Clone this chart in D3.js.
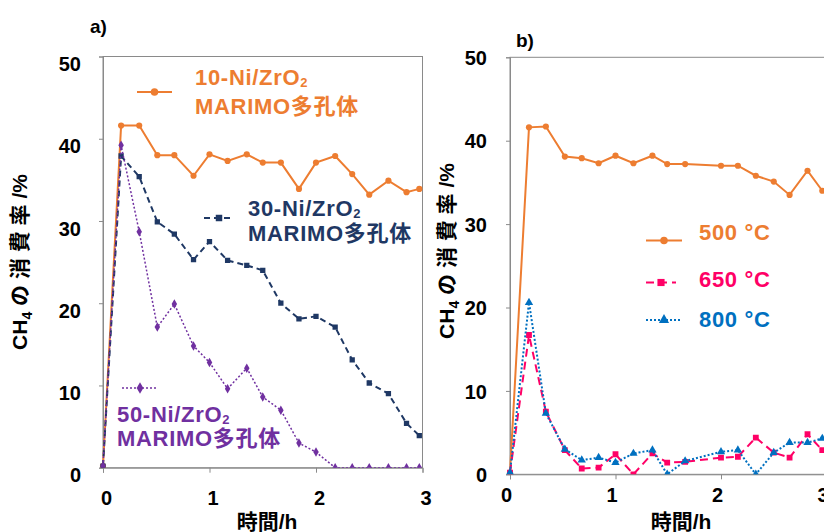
<!DOCTYPE html>
<html>
<head>
<meta charset="utf-8">
<script src="https://cdn.jsdelivr.net/npm/d3@7"></script>
<style>
  body { margin: 0; background: #fff; }
  svg { display: block; }
  text { font-family: "Liberation Sans", Arial, "Noto Sans CJK JP", sans-serif; font-weight: bold; }
</style>
</head>
<body>
<div id="chart"></div>
<script>
// panel a: Ni loading, panel b: temperature
const timeA = [0, 0.17, 0.34, 0.51, 0.67, 0.85, 1.0, 1.17, 1.35, 1.5, 1.67, 1.84, 2.0, 2.18, 2.34, 2.5, 2.68, 2.85, 2.97];
const ni10 = [0.2, 41.6, 41.6, 38.0, 38.0, 35.5, 38.1, 37.3, 38.1, 37.1, 37.1, 33.9, 37.1, 37.9, 35.7, 33.2, 34.9, 33.5, 33.9];
const ni30 = [0.2, 37.9, 35.4, 29.9, 28.4, 25.3, 27.5, 25.2, 24.6, 24.0, 20.0, 18.1, 18.4, 17.1, 13.1, 10.3, 9.0, 5.4, 3.9];
const ni50 = [0.2, 39.2, 28.7, 17.1, 19.9, 14.8, 12.8, 9.6, 12.1, 8.6, 7.0, 3.0, 1.9, 0, 0, 0, 0, 0, 0];

const timeB = [0, 0.18, 0.34, 0.52, 0.68, 0.84, 1.0, 1.17, 1.35, 1.49, 1.66, 2.0, 2.16, 2.33, 2.5, 2.65, 2.82, 2.96];
const t500 = [0.2, 41.6, 41.7, 38.1, 37.9, 37.3, 38.2, 37.3, 38.2, 37.2, 37.2, 37.0, 37.0, 35.8, 35.1, 33.5, 36.4, 34.0];
const t650 = [0.2, 16.7, 7.5, 2.9, 0.7, 0.8, 2.4, 0, 2.5, 1.4, 1.5, 2.0, 2.1, 4.4, 2.6, 2.0, 4.8, 2.9];
const t800 = [0.2, 20.6, 7.3, 3.0, 1.7, 2.0, 1.4, 2.5, 2.9, 0, 1.6, 2.7, 2.9, 0, 2.6, 3.8, 3.8, 4.3];

const xTicks = [0, 1, 2, 3];
const yTicks = [0, 10, 20, 30, 40, 50];

const W = 824, H = 532;
const grey = "#8a8a8a";

const svg = d3.select("#chart").append("svg")
    .attr("width", W)
    .attr("height", H);

function panel(opt) {
    const x = d3.scaleLinear().domain([0, 3]).range([opt.left, opt.right]);
    const y = d3.scaleLinear().domain([0, 50]).range([opt.bottom, opt.top]);
    const g = svg.append("g");

    // plot area frame
    g.append("rect")
        .attr("x", opt.left).attr("y", opt.top)
        .attr("width", opt.right - opt.left).attr("height", opt.bottom - opt.top)
        .attr("fill", "none").attr("stroke", grey).attr("stroke-width", 1);

    const ax = g.append("g")
        .attr("transform", `translate(0,${opt.bottom})`)
        .call(d3.axisBottom(x).tickValues(xTicks).tickSize(5).tickFormat(d3.format("d")));
    ax.select(".domain").attr("stroke", grey);
    ax.selectAll(".tick line").attr("stroke", grey);
    ax.selectAll(".tick text")
        .attr("fill", "#000").style("font-size", "20px")
        .attr("dy", null).attr("y", opt.xLabelY).attr("x", opt.xLabelDx);

    const ay = g.append("g")
        .attr("transform", `translate(${opt.left},0)`)
        .call(d3.axisLeft(y).tickValues(yTicks).tickSize(4));
    ay.select(".domain").attr("stroke", grey);
    ay.selectAll(".tick line").attr("stroke", grey);
    ay.selectAll(".tick text")
        .attr("fill", "#000").style("font-size", "20px")
        .attr("x", -opt.yLabelPad).attr("dy", "0.36em").attr("y", opt.yLabelDy);

    // axis titles
    g.append("text")
        .attr("x", opt.xTitleX).attr("y", 529)
        .attr("text-anchor", "middle").style("font-size", "21px")
        .text("時間/h");

    const yt = g.append("text")
        .attr("transform", `translate(${opt.yTitleX},${opt.yTitleY}) rotate(-90)`)
        .attr("text-anchor", "middle").style("font-size", "21px");
    yt.append("tspan").text("CH");
    yt.append("tspan").attr("dy", 5).style("font-size", "14px").text("4");
    yt.append("tspan").attr("dy", -5).text(" の 消 費 率 /%");

    g.append("text")
        .attr("x", opt.tagX).attr("y", opt.tagY)
        .style("font-size", "19px").text(opt.tag);

    const clipId = "clip-" + opt.tag.replace(")", "");
    svg.append("clipPath").attr("id", clipId)
        .append("rect")
        .attr("x", opt.left - 6).attr("y", opt.top - 6)
        .attr("width", opt.right - opt.left + 12).attr("height", opt.bottom - opt.top + 6);

    const plot = g.append("g").attr("clip-path", `url(#${clipId})`);
    const line = d3.line().x(d => x(d[0])).y(d => y(d[1]));

    opt.series.forEach(s => {
        const pts = opt.time.map((t, i) => [t, s.values[i]]);
        plot.append("path")
            .datum(pts)
            .attr("d", line)
            .attr("fill", "none")
            .attr("stroke", s.color)
            .attr("stroke-width", s.width)
            .attr("stroke-dasharray", s.dash);
        plot.selectAll(null)
            .data(pts)
            .join("path")
            .attr("transform", d => `translate(${x(d[0])},${y(d[1])})`)
            .attr("d", d3.symbol().type(s.symbol).size(s.size))
            .attr("fill", s.color);

        // legend entry
        const lg = g.append("g");
        lg.append("line")
            .attr("x1", s.legend.x1).attr("x2", s.legend.x2)
            .attr("y1", s.legend.y).attr("y2", s.legend.y)
            .attr("stroke", s.color).attr("stroke-width", s.width)
            .attr("stroke-dasharray", s.dash);
        lg.append("path")
            .attr("transform", `translate(${(s.legend.x1 + s.legend.x2) / 2},${s.legend.y})`)
            .attr("d", d3.symbol().type(s.symbol).size(s.size * 1.5))
            .attr("fill", s.color);
        s.legend.lines.forEach((ln, i) => {
            const t = lg.append("text")
                .attr("x", s.legend.tx).attr("y", s.legend.ty + i * s.legend.gap)
                .attr("fill", s.color).style("font-size", "22px")
                .style("letter-spacing", "0.7px");
            if (ln.sub) {
                t.append("tspan").text(ln.text);
                t.append("tspan").attr("dy", 2).style("font-size", "13px").text(ln.sub);
            } else {
                t.text(ln.text);
            }
        });
    });
}

const marimo = { text: "MARIMO多孔体" };

panel({
    tag: "a)", tagX: 90, tagY: 33,
    left: 103, right: 422.5, top: 56.5, bottom: 467.7,
    xLabelY: 37, xLabelDx: 3, yLabelPad: 22, yLabelDy: 7,
    xTitleX: 267, yTitleX: 27, yTitleY: 262,
    time: timeA,
    series: [
        { values: ni10, color: "#ED7D31", width: 2, dash: null, symbol: d3.symbolCircle, size: 30,
          legend: { x1: 137, x2: 172, y: 92, tx: 195, ty: 85, gap: 29,
                    lines: [{ text: "10-Ni/ZrO", sub: "2" }, marimo] } },
        { values: ni30, color: "#1F3864", width: 2, dash: "6,4", symbol: d3.symbolSquare, size: 28,
          legend: { x1: 204, x2: 234, y: 218, tx: 248, ty: 216, gap: 24.5,
                    lines: [{ text: "30-Ni/ZrO", sub: "2" }, marimo] } },
        { values: ni50, color: "#7030A0", width: 1.5, dash: "2,2", symbol: d3.symbolDiamond, size: 26,
          legend: { x1: 122, x2: 158, y: 388, tx: 117, ty: 422, gap: 24,
                    lines: [{ text: "50-Ni/ZrO", sub: "2" }, marimo] } }
    ]
});

panel({
    tag: "b)", tagX: 516, tagY: 47,
    left: 510, right: 826.5, top: 57.3, bottom: 474.3,
    xLabelY: 28, xLabelDx: -4, yLabelPad: 23, yLabelDy: 0,
    xTitleX: 681, yTitleX: 454, yTitleY: 251,
    time: timeB,
    series: [
        { values: t500, color: "#ED7D31", width: 2, dash: null, symbol: d3.symbolCircle, size: 30,
          legend: { x1: 646, x2: 682, y: 240.5, tx: 699, ty: 240, gap: 0,
                    lines: [{ text: "500 °C" }] } },
        { values: t650, color: "#FF0066", width: 2, dash: "8,5", symbol: d3.symbolSquare, size: 34,
          legend: { x1: 646, x2: 676, y: 282.5, tx: 699, ty: 286.5, gap: 0,
                    lines: [{ text: "650 °C" }] } },
        { values: t800, color: "#0070C0", width: 2, dash: "2,2", symbol: d3.symbolTriangle, size: 30,
          legend: { x1: 646, x2: 682, y: 320, tx: 699, ty: 326.5, gap: 0,
                    lines: [{ text: "800 °C" }] } }
    ]
});
</script>
</body>
</html>
